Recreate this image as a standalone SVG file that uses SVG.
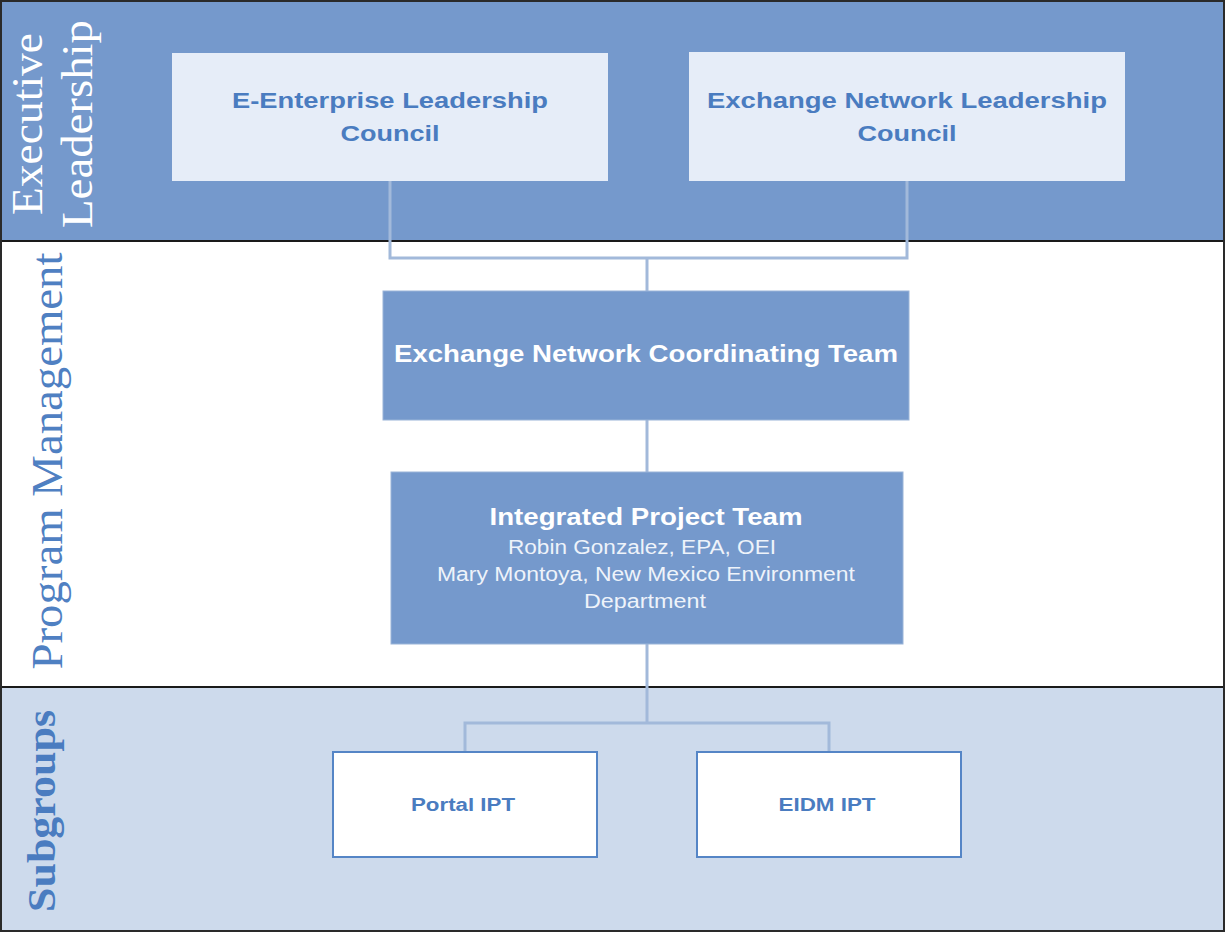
<svg xmlns="http://www.w3.org/2000/svg" width="1225" height="932" viewBox="0 0 1225 932">
<style>
.band-label{font-family:"Liberation Serif","DejaVu Serif",serif;font-size:44px}
.t{font-family:"Liberation Sans",Arial,sans-serif;text-anchor:middle}
.b{font-weight:bold}
.blue{fill:#4a7cc0}
.white{fill:#ffffff}
.conn{fill:none;stroke:#a2b9da;stroke-width:3}
.lightbox{fill:#e6edf8}
.midbox{fill:#7599cc;stroke:#9ab4d8;stroke-width:1}
.subbox{fill:#ffffff;stroke:#5585c6;stroke-width:2}
</style>
<rect x="0" y="0" width="1225" height="932" fill="#ffffff"/>
<g id="bands">
<rect x="1" y="1" width="1223" height="240" fill="#7599cc"/>
<rect x="1" y="241" width="1223" height="446" fill="#ffffff"/>
<rect x="1" y="687" width="1223" height="244" fill="#cddaec"/>
<line x1="1" y1="241" x2="1224" y2="241" stroke="#1a1a1a" stroke-width="2"/>
<line x1="1" y1="687" x2="1224" y2="687" stroke="#1a1a1a" stroke-width="2"/>
<rect x="1" y="1" width="1223" height="930" fill="none" stroke="#2a2a2a" stroke-width="2"/>
<text class="band-label white" transform="translate(42,124) rotate(-90)" text-anchor="middle" textLength="182" lengthAdjust="spacingAndGlyphs">Executive</text>
<text class="band-label white" transform="translate(92,124) rotate(-90)" text-anchor="middle" textLength="208" lengthAdjust="spacingAndGlyphs">Leadership</text>
<text class="band-label" fill="#4f80c2" transform="translate(62,461) rotate(-90)" text-anchor="middle" textLength="417" lengthAdjust="spacingAndGlyphs">Program Management</text>
<text class="band-label b" fill="#4a7cc0" style="font-size:40px" transform="translate(55,811) rotate(-90)" text-anchor="middle" textLength="202" lengthAdjust="spacingAndGlyphs">Subgroups</text>
</g>
<g id="connectors">
<polyline class="conn" points="390,181 390,258 907,258 907,181"/>
<line class="conn" x1="647" y1="258" x2="647" y2="291"/>
<line class="conn" x1="647" y1="420" x2="647" y2="472"/>
<polyline class="conn" points="465,752 465,723 829,723 829,752"/>
<line class="conn" x1="647" y1="644" x2="647" y2="723"/>
</g>
<g id="node-eelc">
<rect class="lightbox" x="172" y="53" width="436" height="128"/>
<text class="t b blue" x="390" y="108" font-size="22" textLength="316" lengthAdjust="spacingAndGlyphs">E-Enterprise Leadership</text>
<text class="t b blue" x="390" y="141" font-size="22" textLength="99" lengthAdjust="spacingAndGlyphs">Council</text>
</g>
<g id="node-enlc">
<rect class="lightbox" x="689" y="52" width="436" height="129"/>
<text class="t b blue" x="907" y="108" font-size="22" textLength="400" lengthAdjust="spacingAndGlyphs">Exchange Network Leadership</text>
<text class="t b blue" x="907" y="141" font-size="22" textLength="99" lengthAdjust="spacingAndGlyphs">Council</text>
</g>
<g id="node-enct">
<rect class="midbox" x="383" y="291" width="526" height="129"/>
<text class="t b white" x="646" y="362" font-size="23" textLength="504" lengthAdjust="spacingAndGlyphs">Exchange Network Coordinating Team</text>
</g>
<g id="node-ipt">
<rect class="midbox" x="391" y="472" width="512" height="172"/>
<text class="t b white" x="646" y="525" font-size="24" textLength="313" lengthAdjust="spacingAndGlyphs">Integrated Project Team</text>
<text class="t" fill="#eef3fa" x="642" y="554" font-size="20" textLength="268" lengthAdjust="spacingAndGlyphs">Robin Gonzalez, EPA, OEI</text>
<text class="t" fill="#eef3fa" x="646" y="581" font-size="20" textLength="418" lengthAdjust="spacingAndGlyphs">Mary Montoya, New Mexico Environment</text>
<text class="t" fill="#eef3fa" x="645" y="608" font-size="20" textLength="122" lengthAdjust="spacingAndGlyphs">Department</text>
</g>
<g id="node-portal">
<rect class="subbox" x="333" y="752" width="264" height="105"/>
<text class="t b blue" x="463" y="811" font-size="18" textLength="104" lengthAdjust="spacingAndGlyphs">Portal IPT</text>
</g>
<g id="node-eidm">
<rect class="subbox" x="697" y="752" width="264" height="105"/>
<text class="t b blue" x="827" y="811" font-size="18" textLength="97" lengthAdjust="spacingAndGlyphs">EIDM IPT</text>
</g>
</svg>
